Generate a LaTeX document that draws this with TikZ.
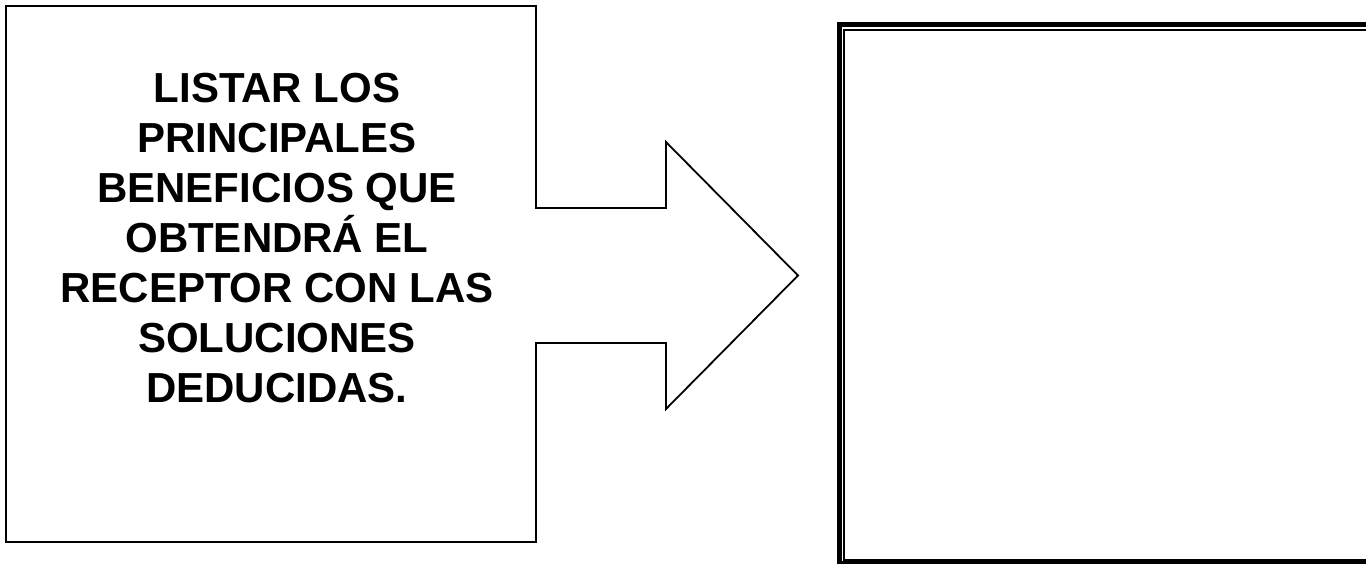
\documentclass[tikz,border=0pt]{standalone}
\usepackage{fontspec}
\setmainfont{Liberation Sans}
\usetikzlibrary{calc}

\tikzset{
  caja/.style={draw, line width=2pt, minimum width=530pt, minimum height=536pt, inner sep=0pt},
  texto/.style={align=center, font=\fontsize{42}{50}\selectfont\bfseries, inner sep=0pt},
  marco/.style={draw, line width=5.5pt, minimum width=541pt, minimum height=539.5pt, inner sep=0pt},
  flecha/.style={line width=1.8pt, line join=miter},
}

\begin{document}
\begin{tikzpicture}[x=1pt, y=-1pt]
      \clip (0,0) rectangle (1366,564);
      \fill[white] (0,0) rectangle (1366,564);
      \node[caja] (1) at (271,274) {};
      \node[texto] (t) at (277,238) {LISTAR LOS\\PRINCIPALES\\BENEFICIOS QUE\\OBTENDRÁ EL\\RECEPTOR CON LAS\\SOLUCIONES\\DEDUCIDAS.};

      % flecha de bloque
      \fill[white] (533,208) -- (666,208) -- (666,142) -- (798,275.5) -- (666,409) -- (666,343) -- (533,343) -- cycle;
      \draw[flecha] (535,208) -- (666,208) -- (666,142) -- (798,275.5) -- (666,409) -- (666,343) -- (535,343);

      \node[marco] (2) at (1110,294.25) {};
      \draw[line width=2pt] ($(2.north west)+(7.5,8)$) rectangle ($(2.south east)+(-7.5,-7)$);
\end{tikzpicture}
\end{document}
